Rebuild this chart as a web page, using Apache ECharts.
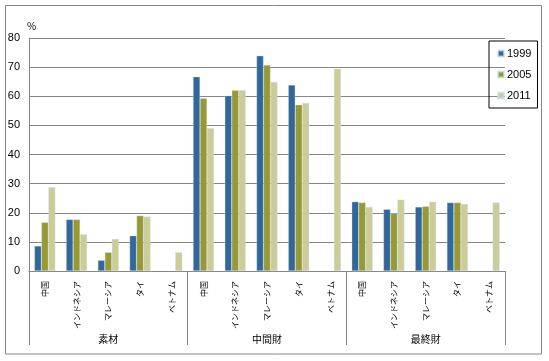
<!DOCTYPE html>
<html><head><meta charset="utf-8">
<script src="https://cdn.jsdelivr.net/npm/echarts@6/dist/echarts.min.js"></script>
<style>html,body{margin:0;padding:0;background:#fff}#c{width:549px;height:361px}</style>
</head><body><div id="c"></div>
<script>
var countries = ['中国','インドネシア','マレーシア','タイ','ベトナム'];
var groups = ['素材','中間財','最終財'];
var categories = [].concat(countries, countries, countries);
var s1999 = [8.6,17.7,3.7,12.1,null, 66.7,60.2,73.9,63.9,null, 23.8,21.2,22.0,23.5,null];
var s2005 = [16.7,17.7,6.4,19.0,null, 59.3,62.1,70.7,57.1,null, 23.5,19.8,22.2,23.5,null];
var s2011 = [28.8,12.6,11.0,18.7,6.4, 49.0,62.1,64.9,57.7,69.4, 22.0,24.5,23.8,23.0,23.5];
var yTicks = [0,10,20,30,40,50,60,70,80];

var chart = echarts.init(document.getElementById('c'));
var gray = '#868686';
function bar(name, data, color){
  return {name:name, type:'bar', data:data, xAxisIndex:0, barGap:'0%', barCategoryGap:'34%',
    itemStyle:{color:color, borderColor:'rgba(200,225,240,0.7)', borderWidth:0.5}};
}
chart.setOption({
  animation:false,
  textStyle:{fontFamily:'"Noto Sans CJK JP", "Liberation Sans", sans-serif'},
  graphic:[{type:'rect', shape:{x:5.5,y:5.5,width:536,height:348.5}, style:{fill:'none', stroke:gray, lineWidth:1}, silent:true}],
  grid:{left:29, right:44, top:38, bottom:90},
  legend:{orient:'vertical', left:489, top:41, padding:[7,6,7,8], itemGap:10, itemWidth:6, itemHeight:6,
    borderColor:'#000', borderWidth:1, icon:'rect',
    textStyle:{fontSize:11, fontFamily:'"Liberation Sans", Arial, sans-serif', color:'#000', padding:[0,0,0,-2]},
    data:['1999','2005','2011']},
  xAxis:[
    {type:'category', data:categories, position:'bottom',
     axisLine:{lineStyle:{color:gray}}, axisTick:{show:false},
     axisLabel:{interval:0, rotate:90, fontSize:8, color:'#000', margin:10}},
    {type:'category', data:groups, position:'bottom', boundaryGap:true,
     axisLine:{show:false}, axisTick:{show:true, interval:0, length:74, lineStyle:{color:gray}},
     axisLabel:{interval:0, fontSize:10, color:'#000', margin:63}}
  ],
  yAxis:{type:'value', min:0, max:80, interval:10, name:'%', nameGap:7,
    nameTextStyle:{fontSize:10, color:'#000', align:'left', padding:[0,0,0,-2]},
    axisLine:{show:true, lineStyle:{color:gray}}, axisTick:{show:false},
    axisLabel:{fontSize:11, color:'#000', margin:9, fontFamily:'"Liberation Sans", Arial, sans-serif'},
    splitLine:{lineStyle:{color:gray}}},
  series:[bar('1999', s1999, '#336699'), bar('2005', s2005, '#999933'), bar('2011', s2011, '#CCCC99')]
});
</script></body></html>
